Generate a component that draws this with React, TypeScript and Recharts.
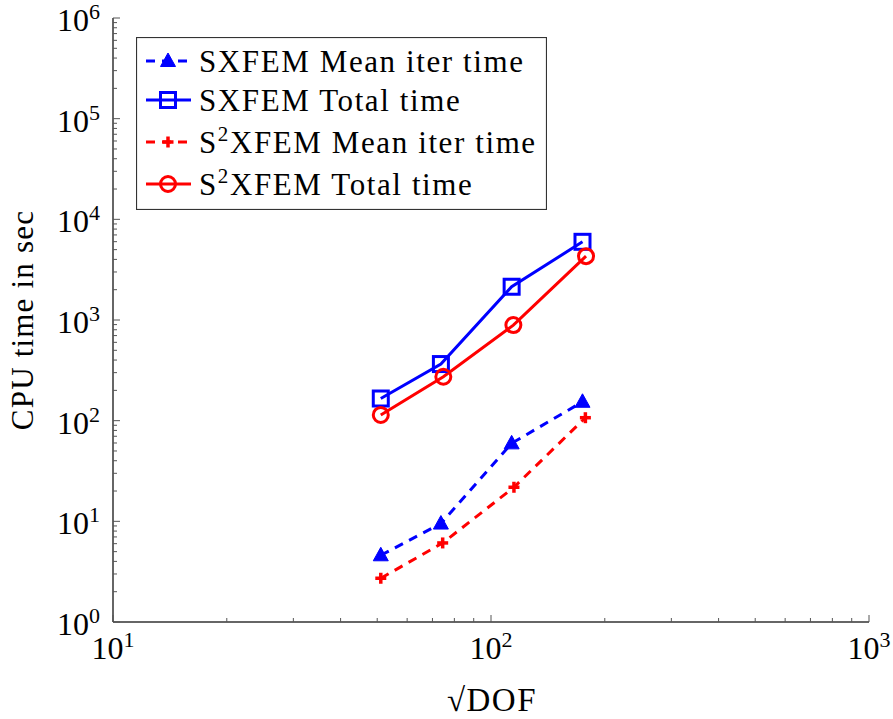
import React from "react";
import { LineChart, Line, XAxis, YAxis, Legend, Label } from "recharts";

const FONT = "Liberation Serif, Times New Roman, serif";
const BLUE = "#0000ff";
const RED = "#ff0000";

// sqrt(DOF) vs CPU time (s)
const sxfemMeanIter = [
  { x: 51.1, y: 4.6 },
  { x: 73.7, y: 9.5 },
  { x: 113.4, y: 59.5 },
  { x: 174.6, y: 154 },
];
const sxfemTotal = [
  { x: 51.1, y: 166 },
  { x: 73.7, y: 365 },
  { x: 113.4, y: 2140 },
  { x: 174.6, y: 5980 },
];
const s2xfemMeanIter = [
  { x: 51.1, y: 2.72 },
  { x: 74.5, y: 6.1 },
  { x: 115, y: 21.8 },
  { x: 177.7, y: 107 },
];
const s2xfemTotal = [
  { x: 51.1, y: 114 },
  { x: 74.8, y: 273 },
  { x: 114.6, y: 890 },
  { x: 178.4, y: 4310 },
];

const xDecades = [10, 100, 1000];
const yDecades = [1, 10, 100, 1000, 10000, 100000, 1000000];
const minorSteps = [2, 3, 4, 5, 6, 7, 8, 9];

const logTicks = (decades: number[]) => {
  const out: number[] = [];
  decades.forEach((d, i) => {
    out.push(d);
    if (i < decades.length - 1) minorSteps.forEach((m) => out.push(d * m));
  });
  return out;
};
const xTicks = logTicks(xDecades);
const yTicks = logTicks(yDecades);

const isDecade = (v: number) => Math.abs(Math.log10(v) - Math.round(Math.log10(v))) < 1e-9;

const TICK = "#555";

function makeTick(side: "bottom" | "top" | "left" | "right", showLabel: boolean) {
  return (props: any) => {
    const { x, y, payload } = props;
    const v = payload.value;
    const major = isDecade(v);
    const len = major ? 7 : 4;
    const exp = Math.round(Math.log10(v));
    let tick;
    if (side === "bottom") tick = <line x1={x} x2={x} y1={y} y2={y - len} stroke={TICK} />;
    else if (side === "top") tick = <line x1={x} x2={x} y1={y} y2={y + len} stroke={TICK} />;
    else if (side === "left") tick = <line x1={x} x2={x + len} y1={y} y2={y} stroke={TICK} />;
    else tick = <line x1={x} x2={x - len} y1={y} y2={y} stroke={TICK} />;
    let label = null;
    if (showLabel && major) {
      if (side === "bottom") {
        label = (
          <text x={x} y={y + 37} textAnchor="middle" fontFamily={FONT} fontSize={32} fill="#000">
            10<tspan dy={-12} fontSize={22}>{exp}</tspan>
          </text>
        );
      } else {
        label = (
          <text x={x - 13} y={y + 13} textAnchor="end" fontFamily={FONT} fontSize={32} fill="#000">
            10<tspan dy={-12} fontSize={22}>{exp}</tspan>
          </text>
        );
      }
    }
    return (
      <g>
        {tick}
        {label}
      </g>
    );
  };
}

const Triangle = ({ cx, cy, color }: any) => (
  <polygon
    points={`${cx},${cy - 8} ${cx - 7.5},${cy + 5.5} ${cx + 7.5},${cy + 5.5}`}
    fill={color}
    stroke={color}
    strokeWidth={1}
  />
);
const Square = ({ cx, cy, color }: any) => (
  <rect x={cx - 7.5} y={cy - 7.5} width={15} height={15} fill="none" stroke={color} strokeWidth={3} />
);
const Circle = ({ cx, cy, color }: any) => (
  <circle cx={cx} cy={cy} r={7.5} fill="none" stroke={color} strokeWidth={3} />
);
const Plus = ({ cx, cy, color }: any) => (
  <g stroke={color} strokeWidth={3.5}>
    <line x1={cx - 5.5} x2={cx + 5.5} y1={cy} y2={cy} />
    <line x1={cx} x2={cx} y1={cy - 5.5} y2={cy + 5.5} />
  </g>
);

const markers: Record<string, any> = { triangle: Triangle, square: Square, circle: Circle, plus: Plus };

const seriesList = [
  { key: "sxfemMean", data: sxfemMeanIter, color: BLUE, dashed: true, marker: "triangle", pre: "S", sup: "", rest: "XFEM Mean iter time" },
  { key: "sxfemTotal", data: sxfemTotal, color: BLUE, dashed: false, marker: "square", pre: "S", sup: "", rest: "XFEM Total time" },
  { key: "s2xfemMean", data: s2xfemMeanIter, color: RED, dashed: true, marker: "plus", pre: "S", sup: "2", rest: "XFEM Mean iter time" },
  { key: "s2xfemTotal", data: s2xfemTotal, color: RED, dashed: false, marker: "circle", pre: "S", sup: "2", rest: "XFEM Total time" },
];

const LegendBox = () => {
  const rowY = [24, 63, 105, 147];
  return (
    <svg width={411} height={173} style={{ display: "block" }}>
      <rect x={0.5} y={0.5} width={410} height={172} fill="#fff" stroke="#333" strokeWidth={1.2} />
      {seriesList.map((s, i) => {
        const M = markers[s.marker];
        const y = rowY[i];
        return (
          <g key={s.key}>
            <line
              x1={10}
              x2={55}
              y1={y}
              y2={y}
              stroke={s.color}
              strokeWidth={3}
              strokeDasharray={s.dashed ? "9 7" : undefined}
            />
            <M cx={32} cy={y} color={s.color} />
            <text x={63} y={y + 11} fontFamily={FONT} fontSize={31} letterSpacing={1.6} fill="#000">
              {s.pre}
              {s.sup ? (
                <>
                  <tspan dy={-12} fontSize={21}>{s.sup}</tspan>
                  <tspan dy={12}>{s.rest}</tspan>
                </>
              ) : (
                s.rest
              )}
            </text>
          </g>
        );
      })}
    </svg>
  );
};

export default function App() {
  return (
    <div style={{ width: 893, height: 719, background: "#fff" }}>
      <style>{"body{margin:0}"}</style>
      <LineChart width={893} height={719} margin={{ top: 18, right: 24, bottom: 0, left: 0 }}>
        <XAxis
          xAxisId="bottom"
          dataKey="x"
          type="number"
          scale="log"
          domain={[10, 1000]}
          allowDataOverflow
          ticks={xTicks}
          interval={0}
          tickSize={0}
          tickMargin={0}
          height={97}
          axisLine={{ stroke: "#333", strokeWidth: 1.5 }}
          tick={makeTick("bottom", true)}
        >
          <Label
            content={() => (
              <text x={492} y={711} textAnchor="middle" fontFamily={FONT} fontSize={33} letterSpacing={1.5} fill="#000">
                √DOF
              </text>
            )}
          />
        </XAxis>
        <XAxis
          xAxisId="top"
          orientation="top"
          dataKey="x"
          type="number"
          scale="log"
          domain={[10, 1000]}
          allowDataOverflow
          ticks={xTicks}
          interval={0}
          tickSize={0}
          tickMargin={0}
          height={0}
          axisLine={{ stroke: "#333", strokeWidth: 1.5 }}
          tick={makeTick("top", false)}
        />
        <YAxis
          yAxisId="left"
          type="number"
          scale="log"
          domain={[1, 1000000]}
          allowDataOverflow
          ticks={yTicks}
          interval={0}
          tickSize={0}
          tickMargin={0}
          width={113}
          axisLine={{ stroke: "#333", strokeWidth: 1.5 }}
          tick={makeTick("left", true)}
        >
          <Label
            content={() => (
              <text
                x={33}
                y={320}
                textAnchor="middle"
                fontFamily={FONT}
                fontSize={31}
                letterSpacing={1.2}
                fill="#000"
                transform="rotate(-90 33 320)"
              >
                CPU time in sec
              </text>
            )}
          />
        </YAxis>
        <YAxis
          yAxisId="right"
          orientation="right"
          type="number"
          scale="log"
          domain={[1, 1000000]}
          allowDataOverflow
          ticks={yTicks}
          interval={0}
          tickSize={0}
          tickMargin={0}
          width={0}
          axisLine={{ stroke: "#333", strokeWidth: 1.5 }}
          tick={makeTick("right", false)}
        />
        <Legend
          layout="vertical"
          align="center"
          verticalAlign="middle"
          wrapperStyle={{ position: "absolute", left: 136, top: 37, width: 411, height: 173 }}
          content={() => <LegendBox />}
        />
        {seriesList.map((s) => {
          const M = markers[s.marker];
          return (
            <Line
              key={s.key}
              data={s.data}
              dataKey="y"
              xAxisId="bottom"
              yAxisId="left"
              stroke={s.color}
              strokeWidth={3}
              strokeDasharray={s.dashed ? "9 7" : undefined}
              type="linear"
              isAnimationActive={false}
              dot={(p: any) => <M key={`${s.key}-${p.index}`} cx={p.cx} cy={p.cy} color={s.color} />}
              activeDot={false}
              legendType="none"
            />
          );
        })}
      </LineChart>
    </div>
  );
}
